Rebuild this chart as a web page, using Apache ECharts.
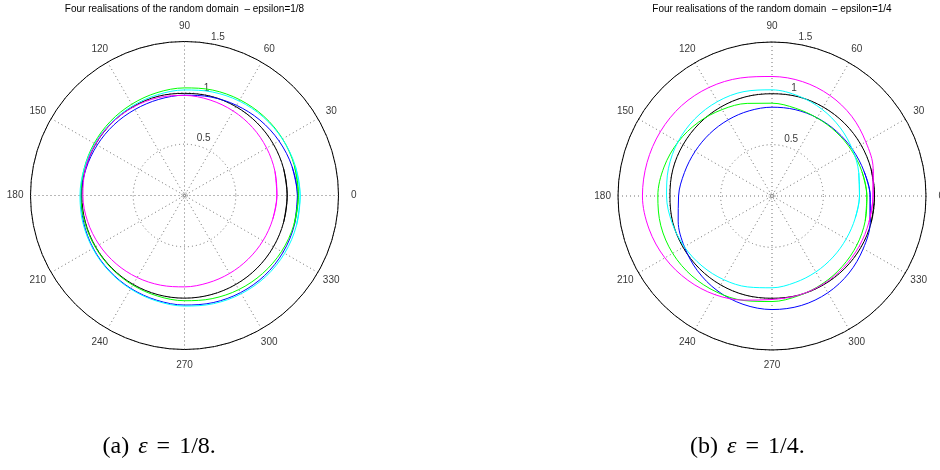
<!DOCTYPE html>
<html><head><meta charset="utf-8">
<script src="https://cdn.jsdelivr.net/npm/echarts@6/dist/echarts.min.js"></script>
<style>html,body{margin:0;padding:0;background:#fff}#c{width:940px;height:470px}</style>
</head><body><div id="c"></div>
<script>
// ---- data ----
const angles = [0, 15, 30, 45, 60, 75, 90, 105, 120, 135, 150, 165, 180, 195, 210, 225, 240, 255, 270, 285, 300, 315, 330, 345, 360];
const angleTicks = [0, 30, 60, 90, 120, 150, 180, 210, 240, 270, 300, 330];
const angleTickLabels = ['0', '30', '60', '90', '120', '150', '180', '210', '240', '270', '300', '330'];
const radiusTicks = [0.5, 1, 1.5];
const radiusTickLabels = ['0.5', '1', '1.5'];
const titles = ['Four realisations of the random domain  \u2013 epsilon=1/8',
                'Four realisations of the random domain  \u2013 epsilon=1/4'];
const captionLabels = ['(a)', '(b)'];
const captionValues = ['1/8.', '1/4.'];

// (a) epsilon = 1/8 : radius at each angle of `angles`
const a_black   = [1.000, 1.000, 1.000, 1.000, 1.000, 1.000, 0.995, 1.000, 1.000, 1.000, 1.000, 1.000, 1.000, 1.000, 1.000, 1.000, 1.000, 1.000, 1.000, 1.000, 1.000, 1.000, 1.000, 1.000, 1.000];
const a_blue    = [1.100, 1.085, 1.063, 1.039, 1.014, 0.993, 0.977, 0.969, 0.967, 0.973, 0.982, 0.994, 1.006, 1.017, 1.027, 1.036, 1.045, 1.055, 1.067, 1.080, 1.092, 1.103, 1.108, 1.108, 1.100];
const a_green   = [1.109, 1.109, 1.103, 1.092, 1.077, 1.063, 1.048, 1.037, 1.027, 1.021, 1.016, 1.012, 1.009, 1.006, 1.004, 1.005, 1.008, 1.014, 1.025, 1.040, 1.058, 1.075, 1.091, 1.103, 1.109];
const a_cyan    = [1.126, 1.117, 1.101, 1.083, 1.063, 1.044, 1.028, 1.016, 1.009, 1.007, 1.008, 1.012, 1.018, 1.025, 1.032, 1.041, 1.051, 1.063, 1.077, 1.091, 1.105, 1.118, 1.126, 1.129, 1.126];
const a_magenta = [0.900, 0.912, 0.924, 0.937, 0.950, 0.963, 0.975, 0.987, 0.995, 1.001, 1.002, 0.999, 0.990, 0.977, 0.960, 0.941, 0.922, 0.904, 0.890, 0.881, 0.877, 0.877, 0.882, 0.890, 0.900];

// (b) epsilon = 1/4
const b_black   = [0.998, 1.000, 1.000, 1.000, 1.000, 1.000, 0.996, 1.000, 1.000, 1.000, 1.000, 1.000, 0.994, 1.000, 1.000, 1.000, 1.000, 1.000, 0.996, 1.000, 1.000, 1.000, 1.000, 1.000, 0.998];
const b_blue    = [0.956, 0.928, 0.906, 0.890, 0.879, 0.871, 0.865, 0.859, 0.856, 0.858, 0.866, 0.883, 0.910, 0.946, 0.986, 1.028, 1.065, 1.092, 1.106, 1.104, 1.088, 1.061, 1.026, 0.990, 0.956];
const b_green   = [0.924, 0.908, 0.893, 0.882, 0.878, 0.885, 0.904, 0.934, 0.972, 1.015, 1.055, 1.089, 1.112, 1.121, 1.117, 1.102, 1.080, 1.054, 1.028, 1.005, 0.986, 0.969, 0.955, 0.940, 0.924];
const b_cyan    = [0.852, 0.875, 0.905, 0.940, 0.975, 1.007, 1.034, 1.053, 1.062, 1.063, 1.057, 1.044, 1.027, 1.008, 0.987, 0.964, 0.941, 0.917, 0.894, 0.872, 0.854, 0.841, 0.835, 0.839, 0.852];
const b_magenta = [0.984, 1.020, 1.055, 1.098, 1.130, 1.153, 1.164, 1.190, 1.222, 1.245, 1.255, 1.260, 1.262, 1.240, 1.205, 1.160, 1.110, 1.050, 1.008, 1.000, 0.993, 0.985, 0.980, 0.978, 0.984];

// ---- chart ----
const chart = echarts.init(document.getElementById('c'), null, {renderer: 'canvas', width: 940, height: 470});
const FONT = 'Liberation Sans';
const plots = [
  {center: [184.5, 195.5], curves: [['#000000', a_black], ['#0000ff', a_blue], ['#00ff00', a_green], ['#00ffff', a_cyan], ['#ff00ff', a_magenta]]},
  {center: [772, 196], curves: [['#000000', b_black], ['#0000ff', b_blue], ['#00ff00', b_green], ['#00ffff', b_cyan], ['#ff00ff', b_magenta]]}
];
const gridStyle = {color: '#707070', width: 1, type: [1, 3]};
const polar = [], angleAxis = [], radiusAxis = [], series = [];

// closed curve: wrap one sample on each side so the smoothing is continuous at 0/360
function closedData(r) {
  const n = angles.length;
  const pts = angles.map((a, k) => [r[k], a]);
  pts.unshift([r[n - 2], angles[n - 2] - 360]);
  pts.push([r[1], angles[1] + 360]);
  return pts;
}

plots.forEach((p, i) => {
  polar.push({center: p.center, radius: 154});
  angleAxis.push({
    polarIndex: i, type: 'value', min: 0, max: 360, interval: 30, startAngle: 0, clockwise: false,
    axisLine: {show: true, lineStyle: {color: '#000', width: 1}},
    axisTick: {show: false}, axisLabel: {show: false},
    splitLine: {show: true, lineStyle: gridStyle}
  });
  radiusAxis.push({
    polarIndex: i, type: 'value', min: 0, max: 1.5, interval: 0.5,
    axisLine: {show: false}, axisTick: {show: false}, axisLabel: {show: false},
    splitLine: {show: true, lineStyle: gridStyle}
  });
  p.curves.forEach(([col, r]) => {
    series.push({
      type: 'line', coordinateSystem: 'polar', polarIndex: i,
      data: closedData(r),
      smooth: 0.34, showSymbol: false, symbol: 'none', clip: false, silent: true, z: 3,
      lineStyle: {color: col, width: 1}, itemStyle: {color: col}
    });
  });
  // angle tick labels
  series.push({
    type: 'scatter', coordinateSystem: 'polar', polarIndex: i, clip: false, silent: true,
    symbolSize: 1, itemStyle: {color: 'rgba(0,0,0,0)'},
    data: angleTicks.map((a, k) => ({name: angleTickLabels[k], value: [1.65, a]})),
    label: {show: true, position: 'inside', formatter: '{b}', color: '#000', fontSize: 10, fontFamily: FONT}
  });
  // radius tick labels
  series.push({
    type: 'scatter', coordinateSystem: 'polar', polarIndex: i, clip: false, silent: true,
    symbolSize: 1, itemStyle: {color: 'rgba(0,0,0,0)'},
    data: radiusTicks.map((r, k) => ({name: radiusTickLabels[k], value: [r, 82]})),
    label: {show: true, position: 'inside', formatter: '{b}', align: 'left', verticalAlign: 'bottom',
            offset: [5, -1], color: '#000', fontSize: 10, fontFamily: FONT}
  });
  // small circle at the origin
  series.push({
    type: 'scatter', coordinateSystem: 'polar', polarIndex: i, clip: false, silent: true,
    symbol: 'circle', symbolSize: 6, data: [[0, 0]],
    itemStyle: {color: 'rgba(0,0,0,0)', borderColor: '#707070', borderWidth: 1, borderType: [1, 1.5]}
  });
});

const graphic = [];
const serif = 'Liberation Serif';
plots.forEach((p, i) => {
  graphic.push({
    type: 'text', x: p.center[0], y: 9, silent: true,
    style: {text: titles[i], fill: '#000', fontSize: 10, fontFamily: FONT, align: 'center', verticalAlign: 'middle'}
  });
  graphic.push({
    type: 'text', x: p.center[0] - 82, y: 447, silent: true,
    style: {
      text: '{t|' + captionLabels[i] + '}{s| }{e|\u03b5}{s| }{t|=}{s| }{t|' + captionValues[i] + '}',
      fill: '#000', align: 'left', verticalAlign: 'middle',
      rich: {
        t: {fontSize: 24, fontFamily: serif, fill: '#000'},
        s: {fontSize: 24, fontFamily: serif, width: 9},
        e: {fontSize: 24, fontFamily: serif, fontStyle: 'italic', fill: '#000'}
      }
    }
  });
});

chart.setOption({
  backgroundColor: '#ffffff',
  animation: false,
  polar, angleAxis, radiusAxis, series, graphic
});
</script>
</body></html>
